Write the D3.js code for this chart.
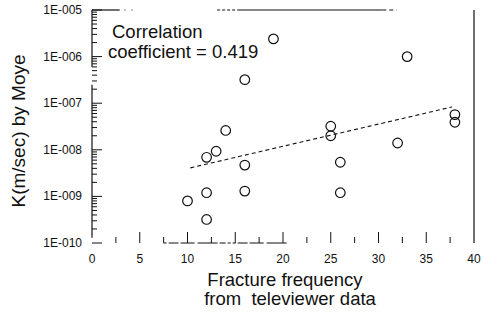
<!DOCTYPE html>
<html>
<head>
<meta charset="utf-8">
<script src="https://cdn.jsdelivr.net/npm/d3@7"></script>
<style>
  body { margin: 0; background: #fff; }
  svg text { font-family: "Liberation Sans", Arial, sans-serif; fill: #111; }
</style>
</head>
<body>
<svg id="chart"></svg>
<script>
// fracture frequency vs permeability (Moye)
var freq = [19, 33, 16, 38, 38, 14, 25, 25, 13, 12, 16, 26, 32, 12, 16, 26, 10, 12];
var kMoye = [2.4e-6, 1.0e-6, 3.2e-7, 5.7e-8, 3.9e-8, 2.6e-8, 3.2e-8, 2.0e-8, 9.3e-9,
             6.9e-9, 4.7e-9, 5.4e-9, 1.4e-8, 1.2e-9, 1.3e-9, 1.2e-9, 8.0e-10, 3.2e-10];

// dashed fit line
var trendX = [10.3, 37.7];
var trendK = [4.1e-9, 8.3e-8];

var xTicks = [0, 5, 10, 15, 20, 25, 30, 35, 40];
var yTicks = [1e-10, 1e-9, 1e-8, 1e-7, 1e-6, 1e-5];
var yTickLabels = ["1E-010", "1E-009", "1E-008", "1E-007", "1E-006", "1E-005"];

var width = 483, height = 318;
var margin = { left: 92, top: 10, right: 9, bottom: 75 };

var svg = d3.select("#chart").attr("width", width).attr("height", height);

var x = d3.scaleLinear().domain([0, 40]).range([margin.left, width - margin.right]);
var y = d3.scaleLog().domain([1e-10, 1e-5]).range([height - margin.bottom, margin.top]);

var frame = svg.append("g").attr("stroke", "#111").attr("fill", "none");

// scanned frame has gaps; keep the visible bits
function seg(x1, x2, k1, k2, dash) {
  frame.append("line")
      .attr("x1", x(x1)).attr("x2", x(x2))
      .attr("y1", y(k1)).attr("y2", y(k2))
      .attr("stroke-width", 1.2)
      .attr("stroke-dasharray", dash || null);
}
seg(40, 40, 1e-5, 1e-10);
seg(0, 0, 1e-5, 6e-7);
seg(0, 0, 2.5e-7, 1.3e-10);
seg(0, 2.9, 1e-5, 1e-5);
seg(3.4, 4.4, 1e-5, 1e-5, "1,6");
seg(13.1, 15.2, 1e-5, 1e-5, "3,2");
seg(15.2, 30.4, 1e-5, 1e-5);
seg(30.4, 31.9, 1e-5, 1e-5, "4,3");
seg(7.5, 20.5, 1e-10, 1e-10, "3,2,10,2,14,3,20,2,6,2,3,2");

// x ticks (inside, every 2.5)
var xt = d3.range(2.5, 40, 2.5);
frame.selectAll(".xt").data(xt).enter().append("line")
    .attr("x1", function(d) { return x(d); })
    .attr("x2", function(d) { return x(d); })
    .attr("y1", y(1e-10))
    .attr("y2", function(d) { return y(1e-10) - (d % 5 === 0 ? 11 : 6); });

// y ticks, log minors
var yt = [];
for (var e = -10; e < -5; e++) {
  for (var m = 1; m < 10; m++) yt.push(m * Math.pow(10, e));
}
yt.push(1e-5);
frame.selectAll(".yt").data(yt).enter().append("line")
    .attr("x1", x(0))
    .attr("x2", function(d, i) { return x(0) + (i % 9 === 0 ? 10 : 5); })
    .attr("y1", function(d) { return y(d); })
    .attr("y2", function(d) { return y(d); });

svg.selectAll(".xl").data(xTicks).enter().append("text")
    .attr("x", function(d) { return x(d); })
    .attr("y", y(1e-10) + 20)
    .attr("text-anchor", "middle")
    .attr("font-size", 12)
    .text(function(d) { return d; });

svg.selectAll(".yl").data(yTicks).enter().append("text")
    .attr("x", x(0) - 10)
    .attr("y", function(d) { return y(d) + 4; })
    .attr("text-anchor", "end")
    .attr("font-size", 12)
    .text(function(d, i) { return yTickLabels[i]; });

// fit line
var line = d3.line()
    .x(function(d) { return x(d[0]); })
    .y(function(d) { return y(d[1]); });
svg.append("path")
    .datum(d3.zip(trendX, trendK))
    .attr("d", line)
    .attr("fill", "none")
    .attr("stroke", "#111")
    .attr("stroke-width", 1.1)
    .attr("stroke-dasharray", "4,3");

svg.selectAll(".pt").data(d3.zip(freq, kMoye)).enter().append("circle")
    .attr("cx", function(d) { return x(d[0]); })
    .attr("cy", function(d) { return y(d[1]); })
    .attr("r", 4.8)
    .attr("fill", "none")
    .attr("stroke", "#111")
    .attr("stroke-width", 1.2);

var note = svg.append("text").attr("font-size", 18.5);
note.append("tspan").attr("x", 112).attr("y", 38).text("Correlation");
note.append("tspan").attr("x", 108).attr("y", 58).text("coefficient = 0.419");

var xTitle = svg.append("text").attr("font-size", 18.5).attr("text-anchor", "middle");
xTitle.append("tspan").attr("x", 285).attr("y", 286).text("Fracture frequency");
xTitle.append("tspan").attr("x", 290).attr("y", 305).attr("xml:space", "preserve").text("from  televiewer data");

svg.append("text")
    .attr("font-size", 19)
    .attr("text-anchor", "middle")
    .attr("transform", "translate(25,131) rotate(-90)")
    .text("K(m/sec) by Moye");
</script>
</body>
</html>
